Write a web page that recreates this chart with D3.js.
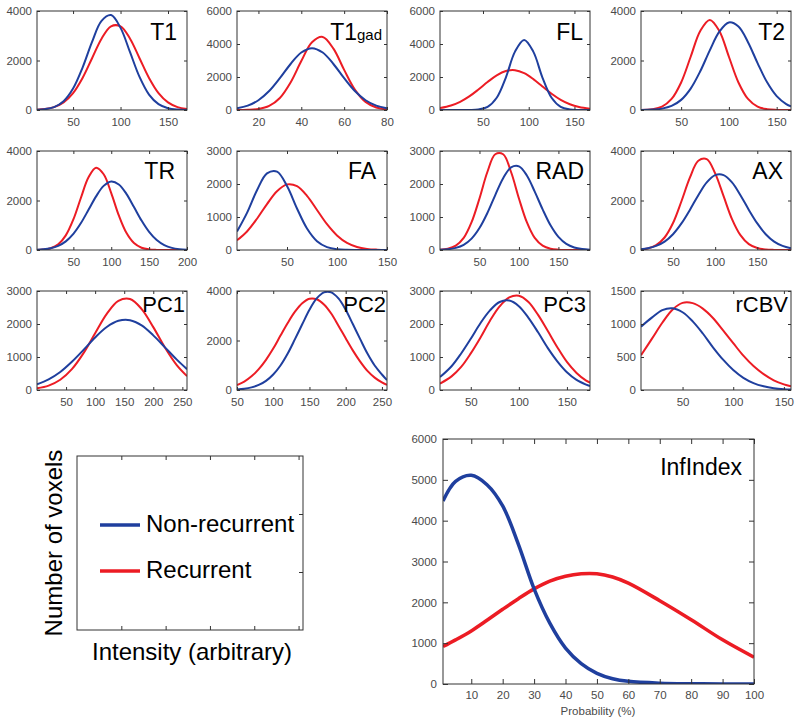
<!DOCTYPE html>
<html><head><meta charset="utf-8">
<script src="https://cdn.jsdelivr.net/npm/d3@7"></script>
<style>body{margin:0;background:#fff}svg{display:block}</style>
</head><body>
<svg id="c" width="800" height="725"></svg>
<script>
// ---------------- data ----------------
const t1X = [12,20,30,40,50,60,70,80,90,100,110,120,130,140,150,160,170];
const t1Blue = [10,32,118,357,867,1713,2753,3604,3835,3318,2336,1337,623,236,73,18,4];
const t1Red = [14,38,117,307,683,1295,2093,2882,3382,3382,2882,2093,1295,683,307,117,38];
const t1XTicks = [50,100,150], t1YTicks = [0,2000,4000];

const t1gadX = [10,15,20,25,30,35,40,45,50,55,60,65,70,75,80];
const t1gadBlue = [100,262,590,1147,1927,2789,3483,3750,3483,2789,1927,1147,590,262,100];
const t1gadRed = [2,14,66,250,731,1670,2968,4107,4428,3717,2430,1235,491,151,36];
const t1gadXTicks = [20,40,60,80], t1gadYTicks = [0,2000,4000,6000];

const flX = [3,15,25,35,45,55,65,75,85,95,105,115,125,135,145,155,167];
const flBlue = [0,0,0,4,33,189,742,1969,3538,4250,3538,1969,742,189,33,4,0];
const flRed = [115,271,496,822,1241,1695,2102,2363,2410,2229,1869,1422,985,615,348,179,71];
const flXTicks = [50,100,150], flYTicks = [0,2000,4000,6000];

const t2X = [8,20,30,40,50,60,70,80,90,100,110,120,130,140,150,160,165];
const t2Blue = [3,16,56,164,409,866,1563,2411,3164,3539,3374,2740,1896,1118,562,241,148];
const t2Red = [4,32,136,446,1113,2151,3193,3640,3193,2151,1113,446,136,32,4,0,0];
const t2XTicks = [50,100,150], t2YTicks = [0,2000,4000];

const trX = [2,10,20,30,40,50,60,70,80,90,100,110,120,130,140,150,160,170,180,190,200];
const trBlue = [12,28,72,169,350,653,1089,1624,2168,2591,2769,2648,2268,1736,1190,732,401,197,86,34,12];
const trRed = [5,18,72,226,590,1233,2111,2939,3327,3061,2299,1395,692,279,91,24,5,1,0,0,0];
const trXTicks = [50,100,150,200], trYTicks = [0,2000,4000];

const faX = [0,10,20,30,40,50,60,70,80,90,100,110,120,130,140,150];
const faBlue = [557,1125,1810,2323,2377,1938,1259,652,268,89,23,5,1,0,0,0];
const faRed = [293,562,948,1392,1781,1988,1934,1640,1213,781,441,215,92,34,11,3];
const faXTicks = [50,100,150], faYTicks = [0,1000,2000,3000];

const radX = [0,10,20,30,40,50,60,70,80,90,100,110,120,130,140,150,160,170,180,190];
const radBlue = [7,23,65,158,346,665,1120,1665,2175,2503,2535,2259,1768,1231,748,397,186,78,28,9];
const radRed = [9,38,131,365,842,1562,2363,2902,2902,2363,1562,842,365,131,38,9,2,0,0,0];
const radXTicks = [50,100,150], radYTicks = [0,1000,2000,3000];

const axX = [12,20,30,40,50,60,70,80,90,100,110,120,130,140,150,160,170,180,190];
const axBlue = [34,71,164,338,638,1073,1619,2215,2733,3027,3027,2733,2215,1619,1073,638,338,164,71];
const axRed = [21,61,194,505,1089,1969,2921,3607,3675,3096,2174,1249,599,235,78,21,5,1,0];
const axXTicks = [50,100,150], axYTicks = [0,2000,4000];

const pc1X = [0,20,40,60,80,100,120,140,160,180,200,220,240,258];
const pc1Blue = [175,324,547,856,1216,1593,1908,2096,2115,1958,1655,1293,927,631];
const pc1Red = [51,134,311,633,1118,1720,2307,2701,2757,2453,1905,1288,761,420];
const pc1XTicks = [50,100,150,200,250], pc1YTicks = [0,1000,2000,3000];

const pc2X = [50,60,70,80,90,100,110,120,130,140,150,160,170,180,190,200,210,220,230,240,250,257];
const pc2Blue = [24,51,107,204,370,627,990,1473,2054,2655,3243,3701,3946,3946,3701,3243,2655,2054,1473,990,627,400];
const pc2Red = [198,337,552,843,1220,1674,2198,2708,3163,3505,3685,3664,3456,3091,2600,2088,1591,1148,771,501,307,208];
const pc2XTicks = [50,100,150,200,250], pc2YTicks = [0,2000,4000];

const pc3X = [18,30,40,50,60,70,80,90,100,110,120,130,140,150,160,170,174];
const pc3Blue = [391,719,1107,1553,2023,2412,2666,2709,2540,2187,1749,1278,870,539,307,164,122];
const pc3Red = [195,413,700,1110,1585,2100,2533,2807,2858,2669,2275,1795,1298,850,518,284,224];
const pc3XTicks = [50,100,150], pc3YTicks = [0,1000,2000,3000];

const rcbvX = [9,20,30,40,50,60,70,80,90,100,110,120,130,140,150,157];
const rcbvBlue = [960,1100,1210,1239,1178,1040,856,647,459,303,185,105,56,27,12,7];
const rcbvRed = [527,782,1019,1217,1320,1316,1233,1091,903,710,520,363,240,147,86,57];
const rcbvXTicks = [50,100,150], rcbvYTicks = [0,500,1000,1500];

const infX = [1,5,10,15,20,25,30,35,40,45,50,55,60,70,80,90,100];
const infBlue = [4480,4960,5110,4880,4360,3420,2330,1490,880,500,262,130,65,20,6,2,0];
const infRed = [918,1080,1300,1560,1830,2090,2330,2520,2640,2700,2700,2620,2470,2040,1574,1082,656];
const infXTicks = [10,20,30,40,50,60,70,80,90,100], infYTicks = [0,1000,2000,3000,4000,5000,6000];

const seriesNames = ["Non-recurrent","Recurrent"];
const axisTitles = ["Number of voxels","Intensity (arbitrary)","Probability (%)"];

// ---------------- panel table ----------------
const panels = [
  {title:"T1", sub:"", x:t1X, blue:t1Blue, red:t1Red, xd:[12,170], ymax:4000, xt:t1XTicks, yt:t1YTicks},
  {title:"T1", sub:"gad", x:t1gadX, blue:t1gadBlue, red:t1gadRed, xd:[10,80], ymax:6000, xt:t1gadXTicks, yt:t1gadYTicks},
  {title:"FL", sub:"", x:flX, blue:flBlue, red:flRed, xd:[3,167], ymax:6000, xt:flXTicks, yt:flYTicks},
  {title:"T2", sub:"", x:t2X, blue:t2Blue, red:t2Red, xd:[8,165], ymax:4000, xt:t2XTicks, yt:t2YTicks},
  {title:"TR", sub:"", x:trX, blue:trBlue, red:trRed, xd:[2,200], ymax:4000, xt:trXTicks, yt:trYTicks},
  {title:"FA", sub:"", x:faX, blue:faBlue, red:faRed, xd:[0,150], ymax:3000, xt:faXTicks, yt:faYTicks},
  {title:"RAD", sub:"", x:radX, blue:radBlue, red:radRed, xd:[0,190], ymax:3000, xt:radXTicks, yt:radYTicks},
  {title:"AX", sub:"", x:axX, blue:axBlue, red:axRed, xd:[12,190], ymax:4000, xt:axXTicks, yt:axYTicks},
  {title:"PC1", sub:"", x:pc1X, blue:pc1Blue, red:pc1Red, xd:[0,258], ymax:3000, xt:pc1XTicks, yt:pc1YTicks},
  {title:"PC2", sub:"", x:pc2X, blue:pc2Blue, red:pc2Red, xd:[50,257], ymax:4000, xt:pc2XTicks, yt:pc2YTicks},
  {title:"PC3", sub:"", x:pc3X, blue:pc3Blue, red:pc3Red, xd:[18,174], ymax:3000, xt:pc3XTicks, yt:pc3YTicks},
  {title:"rCBV", sub:"", x:rcbvX, blue:rcbvBlue, red:rcbvRed, xd:[9,157], ymax:1500, xt:rcbvXTicks, yt:rcbvYTicks}
];

// ---------------- layout ----------------
const BLUE = "#1f3f9e", RED = "#ec1c24", AXC = "#333", TXT = "#4a4a4a";
const FONT = "'Liberation Sans', Arial, Helvetica, sans-serif";
const colLeft = [37, 237, 440, 641];
const rowTop = [11, 151, 291];
const PW = 150, PH = 99;
const titleInset = [10,5,7,6, 12,11,6,8, 2,1,4,3];
const titleBase = [29, 28, 21];
const titleSize = [23, 23, 22];
const fmt = d3.format("d");

const svg = d3.select("#c").style("font-family", FONT);
let clipId = 0;

function frame(g, x, y, w, h, tick, xt, yt, pad) {
  const bx = d3.axisBottom(x).tickValues(xt).tickSize(-tick).tickPadding(pad.x).tickFormat(fmt);
  const tx = d3.axisTop(x).tickValues(xt).tickSize(-tick).tickFormat("");
  const ly = d3.axisLeft(y).tickValues(yt).tickSize(-tick).tickPadding(pad.y).tickFormat(fmt);
  const ry = d3.axisRight(y).tickValues(yt).tickSize(-tick).tickFormat("");
  const gb = g.append("g").attr("transform", `translate(0,${h})`).call(bx);
  const gt = g.append("g").call(tx);
  const gl = g.append("g").call(ly);
  const gr = g.append("g").attr("transform", `translate(${w},0)`).call(ry);
  [gb, gt, gl, gr].forEach(a => {
    a.select(".domain").remove();
    a.selectAll(".tick line").attr("stroke", AXC);
    a.selectAll("text").attr("fill", TXT).style("font-family", FONT).style("font-size", pad.fs + "px");
  });
  g.append("rect").attr("width", w).attr("height", h)
    .attr("fill", "none").attr("stroke", AXC).attr("stroke-width", 1);
}

function curves(g, x, y, w, h, xs, blue, red, lw) {
  const id = "clip" + (clipId++);
  g.append("clipPath").attr("id", id).append("rect").attr("width", w).attr("height", h);
  const line = d3.line().x((d, i) => x(xs[i])).y(d => y(d)).curve(d3.curveCatmullRom.alpha(0.5));
  const cg = g.append("g").attr("clip-path", `url(#${id})`);
  cg.append("path").attr("d", line(red)).attr("fill", "none").attr("stroke", RED)
    .attr("stroke-width", lw).attr("stroke-linejoin", "round");
  cg.append("path").attr("d", line(blue)).attr("fill", "none").attr("stroke", BLUE)
    .attr("stroke-width", lw).attr("stroke-linejoin", "round");
}

panels.forEach((p, i) => {
  const c = i % 4, r = Math.floor(i / 4);
  const g = svg.append("g").attr("transform", `translate(${colLeft[c]},${rowTop[r]})`);
  const x = d3.scaleLinear().domain(p.xd).range([0, PW]);
  const y = d3.scaleLinear().domain([0, p.ymax]).range([PH, 0]);
  curves(g, x, y, PW, PH, p.x, p.blue, p.red, 2);
  frame(g, x, y, PW, PH, 3, p.xt, p.yt, {x: 8, y: 5, fs: 11.5});
  const t = g.append("text").attr("x", PW - titleInset[i]).attr("y", titleBase[r])
    .attr("text-anchor", "end").attr("fill", "#000").style("font-size", titleSize[r] + "px").text(p.title);
  if (p.sub) t.append("tspan").style("font-size", "15px").text(p.sub);
});

// ---------------- legend panel ----------------
{
  const L = 77, T = 456, W = 226, H = 174;
  const g = svg.append("g").attr("transform", `translate(${L},${T})`);
  const x = d3.scaleLinear().domain([0, 5.1]).range([0, W]);
  const y = d3.scaleLinear().domain([0, 3]).range([H, 0]);
  g.append("g").attr("transform", `translate(0,${H})`)
    .call(d3.axisBottom(x).tickValues([1,2,3,4,5]).tickSize(-4).tickFormat(""))
    .call(a => a.select(".domain").remove()).selectAll("line").attr("stroke", AXC);
  g.append("g").call(d3.axisTop(x).tickValues([1,2,3,4,5]).tickSize(-4).tickFormat(""))
    .call(a => a.select(".domain").remove()).selectAll("line").attr("stroke", AXC);
  g.append("g").attr("transform", `translate(${W},0)`)
    .call(d3.axisRight(y).tickValues([1,2]).tickSize(-4).tickFormat(""))
    .call(a => a.select(".domain").remove()).selectAll("line").attr("stroke", AXC);
  g.append("rect").attr("width", W).attr("height", H).attr("fill", "none").attr("stroke", AXC);
  const items = [{name: seriesNames[0], col: BLUE, yy: 69}, {name: seriesNames[1], col: RED, yy: 115}];
  items.forEach(it => {
    g.append("line").attr("x1", 23).attr("x2", 63).attr("y1", it.yy).attr("y2", it.yy)
      .attr("stroke", it.col).attr("stroke-width", 3.5);
    g.append("text").attr("x", 69).attr("y", it.yy + 7).style("font-size", "24px")
      .attr("fill", "#000").text(it.name);
  });
  svg.append("text").attr("transform", "translate(62,543) rotate(-90)").attr("text-anchor", "middle")
    .style("font-size", "24px").attr("fill", "#000").text(axisTitles[0]);
  svg.append("text").attr("x", 192).attr("y", 660).attr("text-anchor", "middle")
    .style("font-size", "24px").attr("fill", "#000").text(axisTitles[1]);
}

// ---------------- InfIndex panel ----------------
{
  const L = 443, T = 439, W = 311, H = 245;
  const g = svg.append("g").attr("transform", `translate(${L},${T})`);
  const x = d3.scaleLinear().domain([1, 100]).range([0, W]);
  const y = d3.scaleLinear().domain([0, 6000]).range([H, 0]);
  curves(g, x, y, W, H, infX, infBlue, infRed, 3.5);
  frame(g, x, y, W, H, 5, infXTicks, infYTicks, {x: 7, y: 6, fs: 11.5});
  g.append("text").attr("x", W - 12).attr("y", 36).attr("text-anchor", "end")
    .style("font-size", "23px").attr("fill", "#000").text("InfIndex");
  g.append("text").attr("x", 155).attr("y", 276).attr("text-anchor", "middle")
    .style("font-size", "11.5px").attr("fill", TXT).text(axisTitles[2]);
}
</script>
</body></html>
